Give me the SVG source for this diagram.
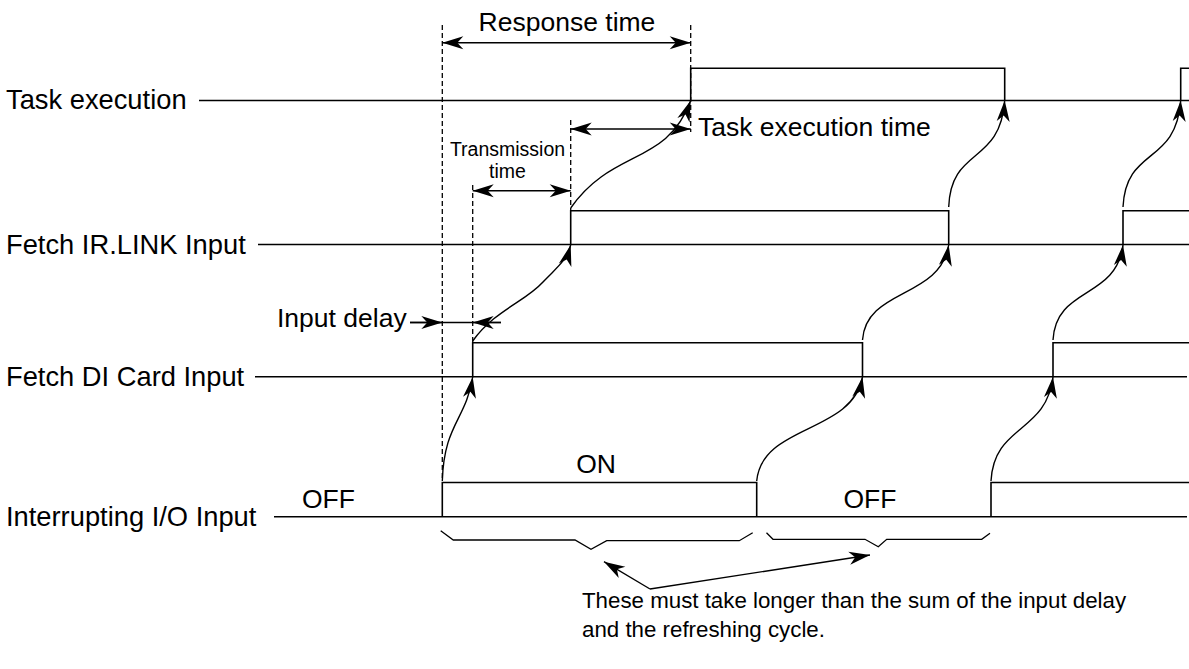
<svg xmlns="http://www.w3.org/2000/svg" width="1189" height="669" viewBox="0 0 1189 669">
  <defs>
    <marker id="arrow" markerUnits="userSpaceOnUse" viewBox="-23 -8 25 16" refX="0" refY="0" markerWidth="25" markerHeight="16" orient="auto-start-reverse">
      <path d="M0,0 L-21,-6.5 L-15,0 L-21,6.5 Z" fill="#000"/>
    </marker>
    <style>
      .label { font-family: "Liberation Sans", Arial, sans-serif; font-size: 26.5px; fill: #000; }
      .row { font-family: "Liberation Sans", Arial, sans-serif; font-size: 27.3px; fill: #000; }
      .note { font-family: "Liberation Sans", Arial, sans-serif; font-size: 22.3px; fill: #000; }
      .small { font-family: "Liberation Sans", Arial, sans-serif; font-size: 19.5px; fill: #000; }
      .wave { fill: none; stroke: #000; stroke-width: 1.6; }
      .dash { fill: none; stroke: #000; stroke-width: 1.3; stroke-dasharray: 5 3; }
      .conn { fill: none; stroke: #000; stroke-width: 1.4; }
      .brace { fill: none; stroke: #000; stroke-width: 1.3; }
    </style>
  </defs>
  <rect width="1189" height="669" fill="#fff"/>

  <!-- signal rows -->
  <g id="task-execution">
    <text class="row" x="6" y="109">Task execution</text>
    <path class="wave" d="M199,100.5 H1189 M690.7,100.5 V68.3 H1004.7 V100.5 M1180.7,100.5 V68.3 H1189"/>
  </g>
  <g id="fetch-irlink">
    <text class="row" x="6" y="254">Fetch IR.LINK Input</text>
    <path class="wave" d="M258,244.5 H1189 M570.7,244.5 V210.7 H948.7 V244.5 M1123,244.5 V210.7 H1189"/>
  </g>
  <g id="fetch-di">
    <text class="row" x="6" y="386">Fetch DI Card Input</text>
    <path class="wave" d="M255,376.7 H1187 M472.7,376.7 V342.7 H862.5 V376.7 M1053,376.7 V342.7 H1189"/>
  </g>
  <g id="interrupt-io">
    <text class="row" x="6" y="526">Interrupting I/O Input</text>
    <path class="wave" d="M274,516.7 H1187 M442.3,516.7 V482.5 H756.7 V516.7 M991,516.7 V482.5 H1189"/>
    <text class="label" x="302" y="508">OFF</text>
    <text class="label" x="596" y="473" text-anchor="middle">ON</text>
    <text class="label" x="870" y="508" text-anchor="middle">OFF</text>
  </g>

  <!-- timing references -->
  <g id="guides">
    <path class="dash" d="M442.3,25 V481"/>
    <path class="dash" d="M472.7,185 V343"/>
    <path class="dash" d="M570.7,120 V211"/>
    <path class="dash" d="M690.7,25 V132"/>
  </g>

  <g id="response-time">
    <text class="label" x="567" y="31" text-anchor="middle">Response time</text>
    <path class="conn" d="M442.3,42.7 H690.7" marker-start="url(#arrow)" marker-end="url(#arrow)"/>
  </g>
  <g id="task-execution-time">
    <text class="label" x="698" y="136">Task execution time</text>
    <path class="conn" d="M570.7,129 H690.7" marker-start="url(#arrow)" marker-end="url(#arrow)"/>
  </g>
  <g id="transmission-time">
    <text class="small" x="507.5" y="156" text-anchor="middle">Transmission</text>
    <text class="small" x="507.5" y="178" text-anchor="middle">time</text>
    <path class="conn" d="M472.7,190.7 H570.7" marker-start="url(#arrow)" marker-end="url(#arrow)"/>
  </g>
  <g id="input-delay">
    <text class="label" x="277" y="327">Input delay</text>
    <path class="conn" d="M410,322.5 H501"/>
    <path class="conn" d="M410,322.5 H442.3" marker-end="url(#arrow)"/>
    <path class="conn" d="M501,322.5 H472.7" marker-end="url(#arrow)"/>
  </g>

  <!-- propagation connectors -->
  <g id="connectors">
    <path class="conn" d="M442.3,481 C444,424 466,420 472.7,377" marker-end="url(#arrow)"/>
    <path class="conn" d="M472.7,341 C495,310 525,302 543,282 C556,268 566,262 570.7,245" marker-end="url(#arrow)"/>
    <path class="conn" d="M570.7,208 C612.7,148 666.7,166 690.7,100.5" marker-end="url(#arrow)"/>
    <path class="conn" d="M756.7,481 C762,424 852,434 862.5,377" marker-end="url(#arrow)"/>
    <path class="conn" d="M862.5,340 C866,288 940,299 948.7,245" marker-end="url(#arrow)"/>
    <path class="conn" d="M948.7,207 C951,146 1000,166 1004.7,100.5" marker-end="url(#arrow)"/>
    <path class="conn" d="M991,481 C994,424 1046,434 1053,377" marker-end="url(#arrow)"/>
    <path class="conn" d="M1053,340 C1056,286 1116,300 1123,245" marker-end="url(#arrow)"/>
    <path class="conn" d="M1123,207 C1126,146 1176,166 1180.7,100.5" marker-end="url(#arrow)"/>
  </g>

  <!-- duration braces and note -->
  <g id="braces">
    <path class="brace" d="M440.7,530.7 L453.3,540 H575 L591,549.3 L606.7,540.7 H739.3 L752.7,532.7"/>
    <path class="brace" d="M766.5,532.7 L773,539.3 H865 L878.3,546.7 L886.7,539.3 H981.7 L990,533.3"/>
  </g>
  <g id="note">
    <path class="conn" d="M650,589 L604,561.7" marker-end="url(#arrow)"/>
    <path class="conn" d="M650,589 L870,555" marker-end="url(#arrow)"/>
    <text class="note" x="582" y="608">These must take longer than the sum of the input delay</text>
    <text class="note" x="582" y="637">and the refreshing cycle.</text>
  </g>
</svg>
